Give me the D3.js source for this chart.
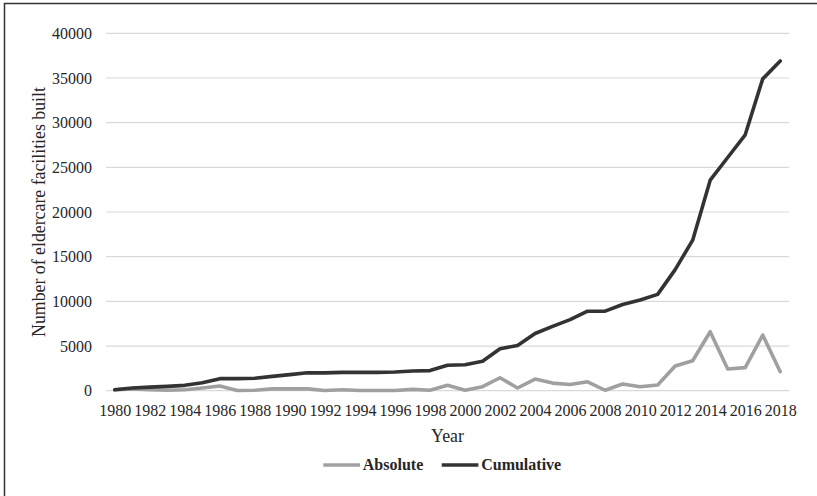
<!DOCTYPE html>
<html>
<head>
<meta charset="utf-8">
<script src="https://cdn.jsdelivr.net/npm/d3@7"></script>
<style>
  html, body { margin: 0; padding: 0; background: #fff; }
  svg { display: block; }
  text { font-family: "Liberation Serif", "Times New Roman", serif; fill: #262626; }
</style>
</head>
<body>
<svg id="chart" width="817" height="496"></svg>
<script>
const years = d3.range(1980, 2019);
const absolute = [100, 200, 100, 50, 100, 300, 520, 20, 50, 200, 200, 200, 30,
  100, 20, 20, 30, 150, 50, 600, 50, 450, 1450, 300, 1300, 850, 700, 1000, 50,
  750, 450, 640, 2760, 3350, 6600, 2430, 2580, 6230, 2130];
const cumulative = [100, 300, 400, 480, 600, 900, 1350, 1350, 1400, 1600, 1800, 2000, 2000,
  2050, 2050, 2050, 2100, 2200, 2250, 2850, 2900, 3300, 4700, 5050, 6400, 7200, 7950, 8900, 8900,
  9650, 10150, 10780, 13550, 16850, 23560, 26100, 28640, 34900, 36900];
const yTicks = [0, 5000, 10000, 15000, 20000, 25000, 30000, 35000, 40000];
const xTickLabels = years.filter(v => (v - 1980) % 2 === 0);
const seriesNames = ["Absolute", "Cumulative"];
const seriesColors = ["#a0a0a0", "#333333"];

const svg = d3.select("#chart");
const mLeft = 106, mRight = 789, mTop = 33.3, mBottom = 390.7;

// outer border
svg.append("rect").attr("x", 4.5).attr("y", 3.5).attr("width", 840).attr("height", 520)
  .attr("fill", "none").attr("stroke", "#333").attr("stroke-width", 1.5);

const x = d3.scalePoint().domain(years).range([mLeft, mRight]).padding(0.5);
const y = d3.scaleLinear().domain([0, 40000]).range([mBottom, mTop]);

// gridlines
svg.append("g").selectAll("line").data(yTicks).join("line")
  .attr("x1", mLeft).attr("x2", mRight)
  .attr("y1", d => y(d)).attr("y2", d => y(d))
  .attr("stroke", "#d9d9d9").attr("stroke-width", 1.2);

// y axis
const yAxis = svg.append("g").attr("transform", `translate(${mLeft - 14},0)`)
  .call(d3.axisLeft(y).tickValues(yTicks).tickSize(0).tickPadding(0).tickFormat(d3.format("d")));
yAxis.select(".domain").remove();
yAxis.selectAll("text").attr("font-size", 16).attr("fill", "#262626")
  .attr("font-family", "Liberation Serif").attr("dy", "0.32em");

// x axis
const xAxis = svg.append("g").attr("transform", `translate(0,${mBottom + 13.6})`)
  .call(d3.axisBottom(x).tickValues(xTickLabels).tickSize(0).tickPadding(0));
xAxis.select(".domain").remove();
xAxis.selectAll("text").attr("font-size", 16).attr("fill", "#262626")
  .attr("font-family", "Liberation Serif").attr("dy", "0.71em");

// lines
const line = d3.line().x((d, i) => x(years[i])).y(d => y(d));
[absolute, cumulative].forEach((s, k) => {
  svg.append("path").datum(s).attr("d", line)
    .attr("fill", "none").attr("stroke", seriesColors[k])
    .attr("stroke-width", 3.6).attr("stroke-linejoin", "round").attr("stroke-linecap", "round");
});

// axis titles
svg.append("text").attr("transform", `translate(45,${(mTop + mBottom) / 2}) rotate(-90)`)
  .attr("text-anchor", "middle").attr("font-size", 17.8).text("Number of eldercare facilities built");
svg.append("text").attr("x", (mLeft + mRight) / 2).attr("y", 442)
  .attr("text-anchor", "middle").attr("font-size", 17.8).text("Year");

// legend
const legendItems = [{ x: 323.3, name: seriesNames[0], color: seriesColors[0] },
                     { x: 441.7, name: seriesNames[1], color: seriesColors[1] }];
const lg = svg.append("g");
legendItems.forEach(it => {
  lg.append("line").attr("x1", it.x).attr("x2", it.x + 36.7).attr("y1", 465).attr("y2", 465)
    .attr("stroke", it.color).attr("stroke-width", 3.6);
  lg.append("text").attr("x", it.x + 39.5).attr("y", 470).attr("font-size", 16)
    .attr("font-weight", "bold").text(it.name);
});
</script>
</body>
</html>
